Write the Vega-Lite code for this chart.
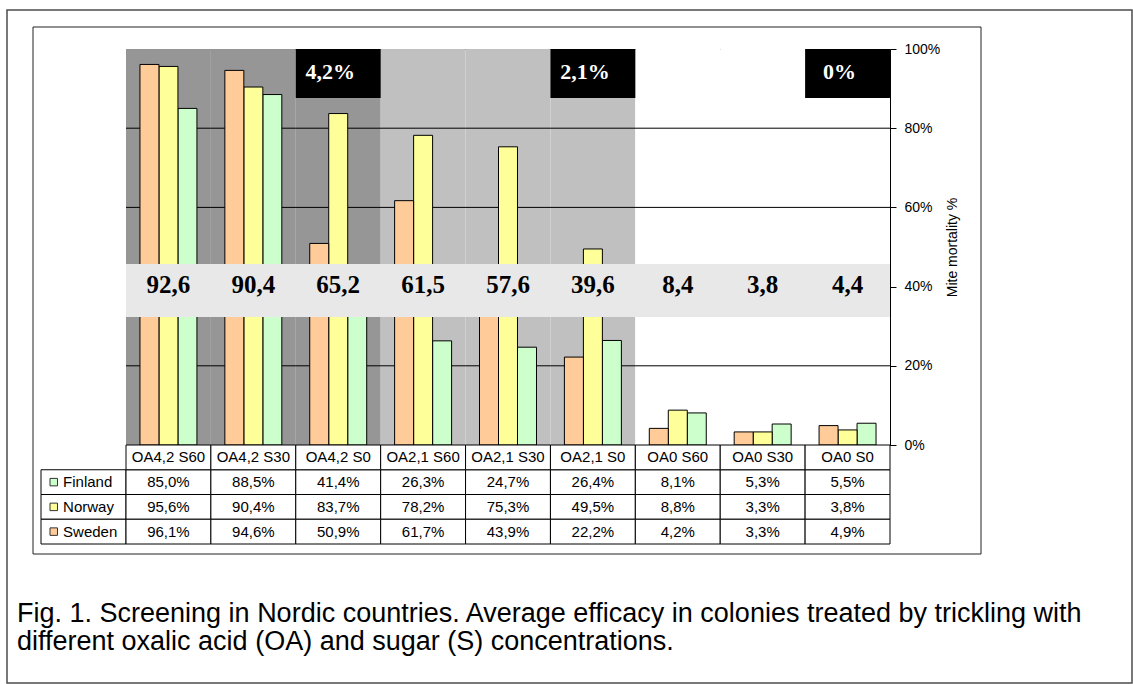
{
  "$schema": "https://vega.github.io/schema/vega-lite/v6.json",
  "background": "white",
  "padding": {"left": 7, "top": 10, "right": 0, "bottom": 0},
  "config": {
    "view": {"stroke": null},
    "font": "Liberation Sans",
    "locale": {"number": {"decimal": ",", "thousands": " ", "grouping": [3], "currency": ["", " kr"]}}
  },
  "datasets": {
    "vals": [
      {"cat": "OA4,2 S60", "country": "Finland", "value": 0.850},
      {"cat": "OA4,2 S30", "country": "Finland", "value": 0.885},
      {"cat": "OA4,2 S0", "country": "Finland", "value": 0.414},
      {"cat": "OA2,1 S60", "country": "Finland", "value": 0.263},
      {"cat": "OA2,1 S30", "country": "Finland", "value": 0.247},
      {"cat": "OA2,1 S0", "country": "Finland", "value": 0.264},
      {"cat": "OA0 S60", "country": "Finland", "value": 0.081},
      {"cat": "OA0 S30", "country": "Finland", "value": 0.053},
      {"cat": "OA0 S0", "country": "Finland", "value": 0.055},
      {"cat": "OA4,2 S60", "country": "Norway", "value": 0.956},
      {"cat": "OA4,2 S30", "country": "Norway", "value": 0.904},
      {"cat": "OA4,2 S0", "country": "Norway", "value": 0.837},
      {"cat": "OA2,1 S60", "country": "Norway", "value": 0.782},
      {"cat": "OA2,1 S30", "country": "Norway", "value": 0.753},
      {"cat": "OA2,1 S0", "country": "Norway", "value": 0.495},
      {"cat": "OA0 S60", "country": "Norway", "value": 0.088},
      {"cat": "OA0 S30", "country": "Norway", "value": 0.033},
      {"cat": "OA0 S0", "country": "Norway", "value": 0.038},
      {"cat": "OA4,2 S60", "country": "Sweden", "value": 0.961},
      {"cat": "OA4,2 S30", "country": "Sweden", "value": 0.946},
      {"cat": "OA4,2 S0", "country": "Sweden", "value": 0.509},
      {"cat": "OA2,1 S60", "country": "Sweden", "value": 0.617},
      {"cat": "OA2,1 S30", "country": "Sweden", "value": 0.439},
      {"cat": "OA2,1 S0", "country": "Sweden", "value": 0.222},
      {"cat": "OA0 S60", "country": "Sweden", "value": 0.042},
      {"cat": "OA0 S30", "country": "Sweden", "value": 0.033},
      {"cat": "OA0 S0", "country": "Sweden", "value": 0.049}
    ],
    "cats": [
      {"cat": "OA4,2 S60", "conc": "4,2%", "avg": 92.6},
      {"cat": "OA4,2 S30", "conc": "4,2%", "avg": 90.4},
      {"cat": "OA4,2 S0", "conc": "4,2%", "avg": 65.2},
      {"cat": "OA2,1 S60", "conc": "2,1%", "avg": 61.5},
      {"cat": "OA2,1 S30", "conc": "2,1%", "avg": 57.6},
      {"cat": "OA2,1 S0", "conc": "2,1%", "avg": 39.6},
      {"cat": "OA0 S60", "conc": "0%", "avg": 8.4},
      {"cat": "OA0 S30", "conc": "0%", "avg": 3.8},
      {"cat": "OA0 S0", "conc": "0%", "avg": 4.4}
    ],
    "grid": [{"v": 0.2}, {"v": 0.4}, {"v": 0.6}, {"v": 0.8}],
    "countries": [
      {"country": "Finland", "col": "Country"},
      {"country": "Norway", "col": "Country"},
      {"country": "Sweden", "col": "Country"}
    ]
  },
  "resolve": {"scale": {"stroke": "independent"}, "legend": {"stroke": "independent"}},
  "bounds": "flush",
  "align": "each",
  "spacing": 0,
  "columns": 2,
  "concat": [
    {
      "width": 85,
      "height": 396,
      "data": {"name": "grid"},
      "mark": {"type": "point", "filled": false, "size": 0},
      "encoding": {
        "stroke": {"field": "v", "type": "quantitative",
                   "scale": {"range": ["transparent", "transparent"]},
                   "legend": {"orient": "none", "legendX": -34, "legendY": -39, "direction": "horizontal",
                              "gradientLength": 1125, "gradientThickness": 673,
                              "gradientStrokeColor": "black", "gradientStrokeWidth": 1.5,
                              "title": null, "values": [], "labelOpacity": 0, "padding": 0}}
      }
    },
    {
      "width": 764,
      "height": 396,
      "view": {"stroke": "#404040"},
      "layer": [
        {
          "data": {"name": "cats"},
          "mark": {"type": "rect"},
          "encoding": {
            "x": {"field": "cat", "type": "nominal", "sort": null, "axis": null,
                  "scale": {"domain": ["OA4,2 S60","OA4,2 S30","OA4,2 S0","OA2,1 S60","OA2,1 S30","OA2,1 S0","OA0 S60","OA0 S30","OA0 S0"], "paddingInner": 0, "paddingOuter": 0}},
            "y": {"datum": 1, "type": "quantitative",
                  "scale": {"domain": [0, 1], "nice": false},
                  "axis": {
                    "orient": "right",
                    "values": [0,0.05,0.1,0.15,0.2,0.25,0.3,0.35,0.4,0.45,0.5,0.55,0.6,0.65,0.7,0.75,0.8,0.85,0.9,0.95,1],
                    "format": ".0%",
                    "labelExpr": "round(datum.value*100) % 20 === 0 ? datum.label : ''",
                    "grid": false,
                    "domainColor": "black",
                    "tickColor": "black",
                    "tickSize": {"condition": {"test": "round(datum.value*100) % 20 === 0", "value": 6}, "value": 4},
                    "labelPadding": 8,
                    "labelColor": "black",
                    "labelFont": "Liberation Sans",
                    "labelFontSize": 14,
                    "labelOverlap": false,
                    "labelFlush": false,
                    "title": "Mite mortality %",
                    "titleAngle": 270,
                    "titleColor": "black",
                    "titleFont": "Liberation Sans",
                    "titleFontSize": 14,
                    "titleFontWeight": "normal",
                    "titlePadding": 20
                  }},
            "y2": {"datum": 0},
            "fill": {"field": "conc", "type": "nominal", "legend": null,
                     "scale": {"domain": ["4,2%", "2,1%", "0%"], "range": ["#969696", "#C0C0C0", "#FFFFFF"]}}
          }
        },
        {
          "data": {"name": "grid"},
          "mark": {"type": "rule", "color": "black", "strokeWidth": 1},
          "encoding": {"y": {"field": "v", "type": "quantitative"}}
        },
        {
          "data": {"name": "vals"},
          "mark": {"type": "bar", "stroke": "black", "strokeWidth": 1},
          "encoding": {
            "x": {"field": "cat", "type": "nominal", "sort": null, "axis": null},
            "xOffset": {"field": "country", "type": "nominal", "sort": ["Sweden", "Norway", "Finland"],
                        "scale": {"paddingInner": 0, "paddingOuter": 0.735}},
            "y": {"field": "value", "type": "quantitative"},
            "color": {"field": "country", "type": "nominal", "legend": null,
                      "scale": {"domain": ["Finland", "Norway", "Sweden"], "range": ["#CCFFCC", "#FFFF99", "#FFCC99"]}}
          }
        },
        {
          "data": {"values": [{}]},
          "mark": {"type": "rect", "fill": "#E8E8E8"},
          "encoding": {
            "y": {"datum": 0.457, "type": "quantitative"},
            "y2": {"datum": 0.323}
          }
        },
        {
          "data": {"name": "cats"},
          "mark": {"type": "text", "font": "Liberation Serif", "fontWeight": "bold", "fontSize": 25, "baseline": "alphabetic", "color": "black"},
          "encoding": {
            "x": {"field": "cat", "type": "nominal", "sort": null, "axis": null},
            "y": {"datum": 0.383, "type": "quantitative"},
            "text": {"field": "avg", "type": "quantitative", "format": ".1f"}
          }
        },
        {
          "data": {"name": "cats"},
          "transform": [{"filter": {"field": "cat", "oneOf": ["OA4,2 S0", "OA2,1 S0", "OA0 S0"]}}],
          "mark": {"type": "rect", "fill": "black"},
          "encoding": {
            "x": {"field": "cat", "type": "nominal", "sort": null, "axis": null},
            "y": {"datum": 1, "type": "quantitative"},
            "y2": {"datum": 0.876}
          }
        },
        {
          "data": {"name": "cats"},
          "transform": [{"filter": {"field": "cat", "oneOf": ["OA4,2 S0", "OA2,1 S0", "OA0 S0"]}}],
          "mark": {"type": "text", "font": "Liberation Serif", "fontWeight": "bold", "fontSize": 22, "baseline": "alphabetic", "color": "white", "dx": -8},
          "encoding": {
            "x": {"field": "cat", "type": "nominal", "sort": null, "axis": null},
            "y": {"datum": 0.925, "type": "quantitative"},
            "text": {"field": "conc", "type": "nominal"}
          }
        },
        {
          "data": {"name": "grid"},
          "mark": {"type": "rule", "strokeWidth": 0},
          "encoding": {
            "y": {"field": "v", "type": "quantitative"},
            "stroke": {"field": "v", "type": "quantitative",
                       "scale": {"range": ["transparent", "transparent"]},
                       "legend": {"orient": "none", "legendX": -93, "legendY": -22, "direction": "horizontal",
                                  "gradientLength": 948, "gradientThickness": 527,
                                  "gradientStrokeColor": "#222222", "gradientStrokeWidth": 1,
                                  "title": null, "values": [], "labelOpacity": 0, "padding": 0}}
          }
        }
      ]
    },
    {
      "width": 85,
      "height": 99,
      "data": {"name": "countries"},
      "title": {
        "text": ["Fig. 1. Screening in Nordic countries. Average efficacy in colonies treated by trickling with", "different oxalic acid (OA) and sugar (S) concentrations."],
        "orient": "bottom",
        "anchor": "start",
        "frame": "group",
        "font": "Liberation Sans",
        "fontSize": 27,
        "fontWeight": "normal",
        "color": "black",
        "lineHeight": 28,
        "offset": 56,
        "dx": -24
      },
      "encoding": {
        "y": {"field": "country", "type": "nominal", "axis": null,
              "scale": {"domain": ["hdr", "Finland", "Norway", "Sweden"], "paddingInner": 0, "paddingOuter": 0}}
      },
      "layer": [
        {
          "mark": {"type": "rect", "fill": "white", "stroke": "black", "strokeWidth": 1},
          "encoding": {
            "x": {"field": "col", "type": "nominal", "axis": null, "scale": {"paddingInner": 0, "paddingOuter": 0}}
          }
        },
        {
          "mark": {"type": "point", "shape": "square", "size": 56, "filled": true, "opacity": 1, "stroke": "#333333", "strokeWidth": 1},
          "encoding": {
            "x": {"field": "col", "type": "nominal", "axis": null, "bandPosition": 0.15},
            "color": {"field": "country", "type": "nominal", "legend": null,
                      "scale": {"domain": ["Finland", "Norway", "Sweden"], "range": ["#CCFFCC", "#FFFF99", "#FFCC99"]}}
          }
        },
        {
          "mark": {"type": "text", "fontSize": 15, "color": "black", "baseline": "middle", "align": "left"},
          "encoding": {
            "x": {"field": "col", "type": "nominal", "axis": null, "bandPosition": 0.26},
            "text": {"field": "country", "type": "nominal"}
          }
        }
      ]
    },
    {
      "width": 764,
      "height": 99,
      "layer": [
        {
          "data": {"name": "vals"},
          "mark": {"type": "rect", "fill": "white", "stroke": "black", "strokeWidth": 1},
          "encoding": {
            "x": {"field": "cat", "type": "nominal", "sort": null, "axis": null,
                  "scale": {"domain": ["OA4,2 S60","OA4,2 S30","OA4,2 S0","OA2,1 S60","OA2,1 S30","OA2,1 S0","OA0 S60","OA0 S30","OA0 S0"], "paddingInner": 0, "paddingOuter": 0}},
            "y": {"field": "country", "type": "nominal", "axis": null,
                  "scale": {"domain": ["hdr", "Finland", "Norway", "Sweden"], "paddingInner": 0, "paddingOuter": 0}}
          }
        },
        {
          "data": {"name": "cats"},
          "mark": {"type": "rect", "fill": "white", "stroke": "black", "strokeWidth": 1},
          "encoding": {
            "x": {"field": "cat", "type": "nominal", "sort": null, "axis": null},
            "y": {"datum": "hdr", "type": "nominal"}
          }
        },
        {
          "data": {"name": "vals"},
          "mark": {"type": "text", "fontSize": 15, "color": "black", "baseline": "middle"},
          "encoding": {
            "x": {"field": "cat", "type": "nominal", "sort": null, "axis": null},
            "y": {"field": "country", "type": "nominal"},
            "text": {"field": "value", "type": "quantitative", "format": ".1%"}
          }
        },
        {
          "data": {"name": "cats"},
          "mark": {"type": "text", "fontSize": 15, "color": "black", "baseline": "middle"},
          "encoding": {
            "x": {"field": "cat", "type": "nominal", "sort": null, "axis": null},
            "y": {"datum": "hdr", "type": "nominal"},
            "text": {"field": "cat", "type": "nominal"}
          }
        }
      ]
    }
  ]
}
